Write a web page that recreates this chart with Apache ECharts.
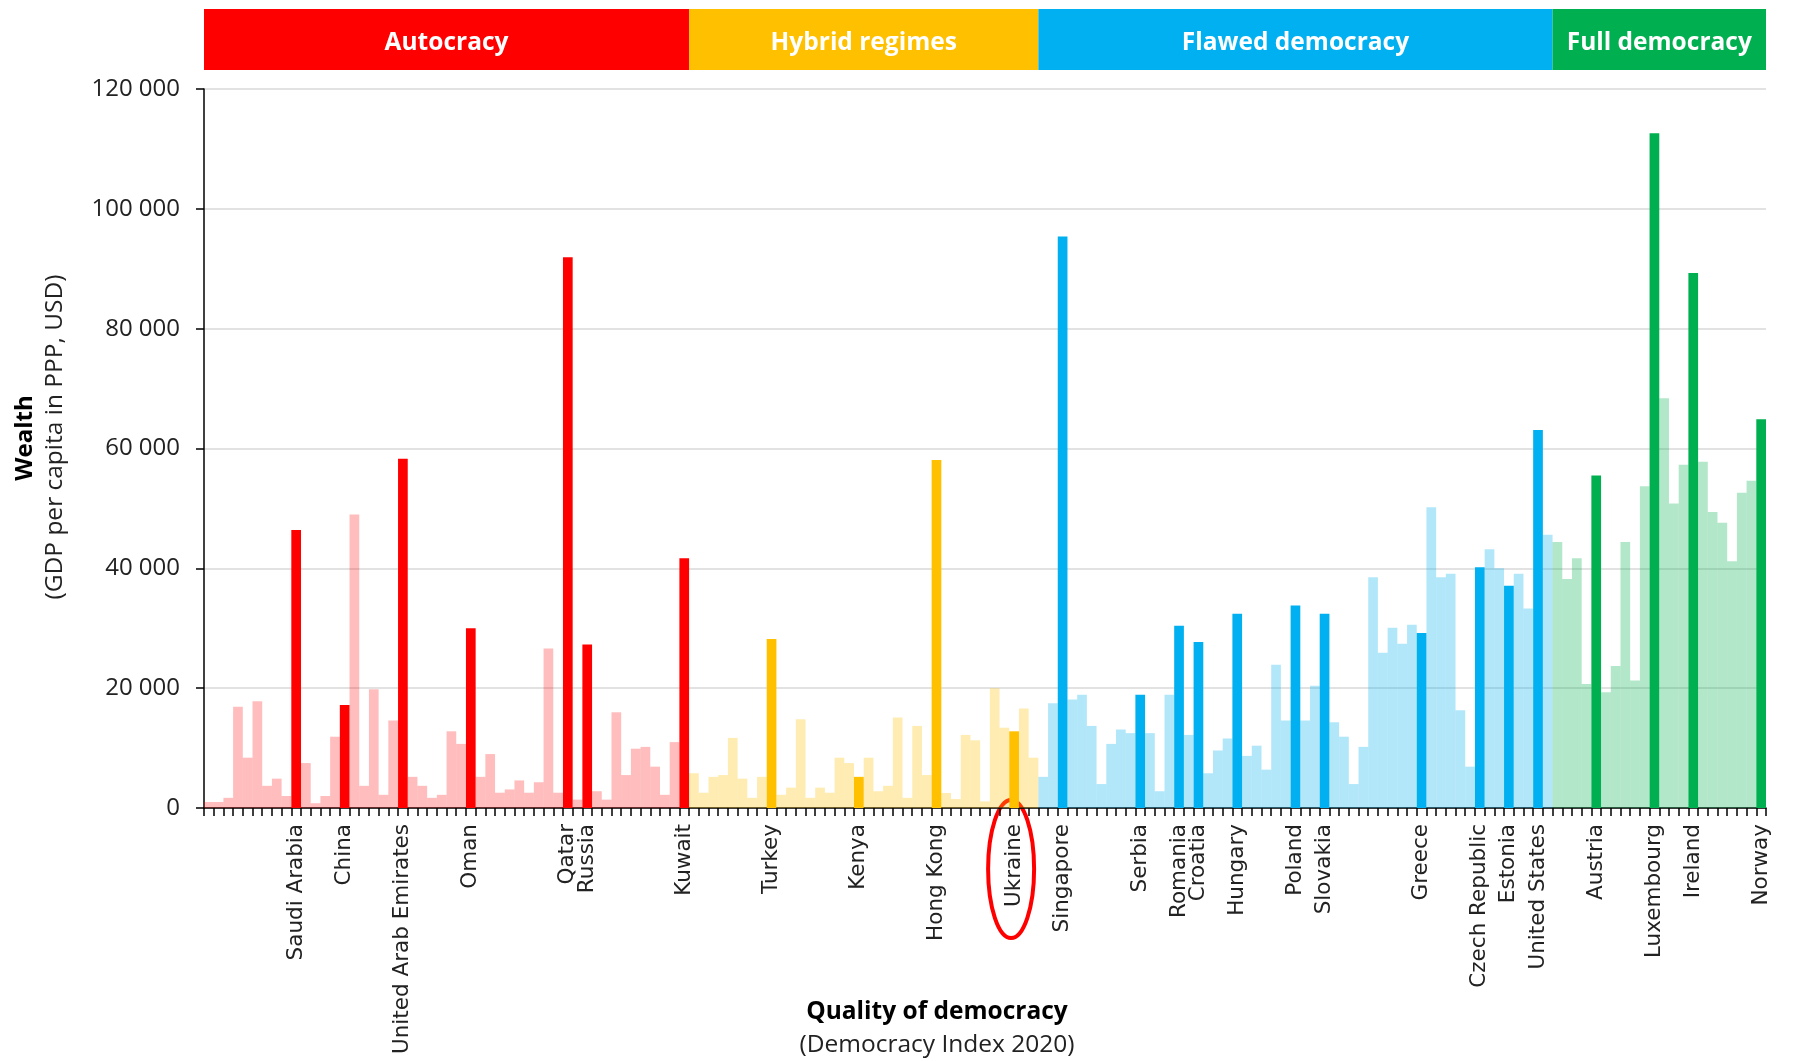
<!DOCTYPE html>
<html><head><meta charset="utf-8">
<script src="https://cdn.jsdelivr.net/npm/echarts@6/dist/echarts.min.js"></script>
<style>html,body{margin:0;padding:0;background:#fff}#c{width:1795px;height:1061px}</style>
</head><body><div id="c"></div>
<script>
// Countries ordered by Democracy Index 2020 (only labelled ones named)
const countries = [
 '','','','','','','','','','Saudi Arabia',
 '','','','','China','','','','','',
 'United Arab Emirates','','','','','','','Oman','','',
 '','','','','','','','Qatar','','Russia',
 '','','','','','','','','','Kuwait',
 '','','','','','','','','Turkey','',
 '','','','','','','','Kenya','','',
 '','','','','','Hong Kong','','','','',
 '','','','Ukraine','','','','','Singapore','',
 '','','','','','','Serbia','','','',
 'Romania','','Croatia','','','','Hungary','','','',
 '','','Poland','','','Slovakia','','','','',
 '','','','','','Greece','','','','',
 '','Czech Republic','','','Estonia','','','United States','','',
 '','','','Austria','','','','','','Luxembourg',
 '','','','Ireland','','','','','','',
 'Norway'
];
// GDP per capita (PPP, USD)
const gdp = [
 1000,1000,1700,16900,8400,17800,3700,4900,2000,46400,
 7500,800,2000,11900,17200,49000,3700,19800,2200,14600,
 58300,5200,3700,1700,2200,12800,10700,30000,5200,9000,
 2550,3100,4600,2550,4300,26600,2550,91900,1400,27300,
 2800,1400,16000,5500,9900,10200,6900,2200,11000,41700,
 5800,2550,5200,5500,11700,4900,1700,5200,28200,2200,
 3400,14800,1700,3400,2550,8400,7500,5200,8400,2800,
 3700,15100,1700,13700,5500,58100,2500,1500,12200,11300,
 1100,20000,13400,12800,16600,8400,5200,17500,95400,18100,
 18900,13700,4000,10700,13100,12500,18900,12500,2800,18900,
 30400,12200,27700,5800,9600,11600,32400,8700,10400,6400,
 23900,14600,33800,14600,20400,32400,14300,11900,4000,10200,
 38500,25900,30100,27400,30600,29200,50200,38500,39100,16300,
 6900,40200,43200,40000,37100,39100,33300,63100,45600,44400,
 38200,41700,20700,55500,19300,23700,44400,21300,53700,112600,
 68400,50800,57300,89300,57800,49400,47600,41200,52600,54600,
 64900
];
const regimeNames = ['Autocracy','Hybrid regimes','Flawed democracy','Full democracy'];
const regimeStarts = [0, 50, 86, 139];
const regimeEnds = [50, 86, 139, 161];
const yTicks = [0, 20000, 40000, 60000, 80000, 100000, 120000];

const strong = ['#FF0000','#FFC000','#00B0F0','#00B050'];
const light = ['rgba(255,0,0,0.26)','rgba(255,192,0,0.30)','rgba(0,176,240,0.30)','rgba(0,176,80,0.30)'];
function regimeOf(i){ for (let r=0;r<regimeStarts.length;r++){ if(i>=regimeStarts[r]&&i<regimeEnds[r]) return r; } return 0; }

const barData = gdp.map((v,i)=>{
  const r = regimeOf(i);
  return {value:v, itemStyle:{color: countries[i] ? strong[r] : light[r]}};
});
const headerData = regimeNames.map((n,r)=>[regimeStarts[r], regimeEnds[r], r]);
const fmt = v => String(v).replace(/\B(?=(\d{3})+(?!\d))/g,' ');

const chart = echarts.init(document.getElementById('c'), null, {renderer:'canvas'});
const titles = [
  {type:'text', x:25, y:438, rotation:Math.PI/2, style:{text:'Wealth', align:'center', verticalAlign:'middle', fontSize:24, fontWeight:'bold', fontFamily:'Open Sans', fill:'#000'}},
  {type:'text', x:55, y:437, rotation:Math.PI/2, style:{text:'(GDP per capita in PPP, USD)', align:'center', verticalAlign:'middle', fontSize:24.5, fontFamily:'Open Sans', fill:'#222'}},
  {type:'text', x:937, y:1012, style:{text:'Quality of democracy', align:'center', verticalAlign:'middle', fontSize:24.5, fontWeight:'bold', fontFamily:'Open Sans', fill:'#000'}},
  {type:'text', x:937, y:1045, style:{text:'(Democracy Index 2020)', align:'center', verticalAlign:'middle', fontSize:24.5, fontFamily:'Open Sans', fill:'#222'}}
];
const option = {
  animation:false,
  backgroundColor:'#fff',
  grid:[
    {left:204, right:29, top:89, bottom:253},
    {left:204, right:29, top:9, height:61}
  ],
  xAxis:[
    {type:'category', gridIndex:0, data:countries, boundaryGap:true,
     axisLine:{lineStyle:{color:'#000', width:1.5}},
     axisTick:{show:true, interval:0, length:8, lineStyle:{color:'#000', width:1.5}},
     axisLabel:{interval:0, rotate:90, margin:16, fontFamily:'DejaVu Sans', fontSize:21.5, color:'#222'},
     splitLine:{show:false}},
    {type:'value', gridIndex:1, min:0, max:countries.length, show:false}
  ],
  yAxis:[
    {type:'value', gridIndex:0, min:yTicks[0], max:yTicks[yTicks.length-1], interval:yTicks[1]-yTicks[0],
     axisLine:{show:true, lineStyle:{color:'#000', width:1.5}},
     axisTick:{show:true, length:8, lineStyle:{color:'#000', width:1.5}},
     axisLabel:{margin:24, fontFamily:'Open Sans', fontSize:24, color:'#222', formatter:fmt},
     splitLine:{show:true, lineStyle:{color:'#D9D9D9', width:1.5}}},
    {type:'value', gridIndex:1, min:0, max:1, show:false}
  ],
  series:[
    {type:'bar', xAxisIndex:0, yAxisIndex:0, data:barData, barCategoryGap:'0%', barGap:'0%'},
    {type:'custom', xAxisIndex:1, yAxisIndex:1, data:headerData, encode:{x:[0,1]},
     renderItem:function(params, api){
       const s = api.coord([api.value(0), 1]);
       const e = api.coord([api.value(1), 0]);
       const r = api.value(2);
       return {type:'group', children:[
         {type:'rect', shape:{x:s[0], y:s[1], width:e[0]-s[0], height:e[1]-s[1]}, style:{fill:strong[r]}},
         {type:'text', style:{text:regimeNames[r], x:(s[0]+e[0])/2, y:(s[1]+e[1])/2+4, align:'center', verticalAlign:'middle',
           fill:'#fff', fontSize:24.5, fontWeight:'bold', fontFamily:'Open Sans'}}
       ]};
     }}
  ],
  graphic:titles
};
chart.setOption(option);
// red ellipse annotation around the Ukraine label
const uk = countries.indexOf('Ukraine');
const ukx = chart.convertToPixel({xAxisIndex:0}, uk);
chart.setOption({graphic: titles.concat([
  {type:'ellipse', shape:{cx:ukx-3, cy:869, rx:23, ry:69}, style:{fill:'none', stroke:'#FF0000', lineWidth:4}}
])}, {replaceMerge:['graphic']});
</script></body></html>
